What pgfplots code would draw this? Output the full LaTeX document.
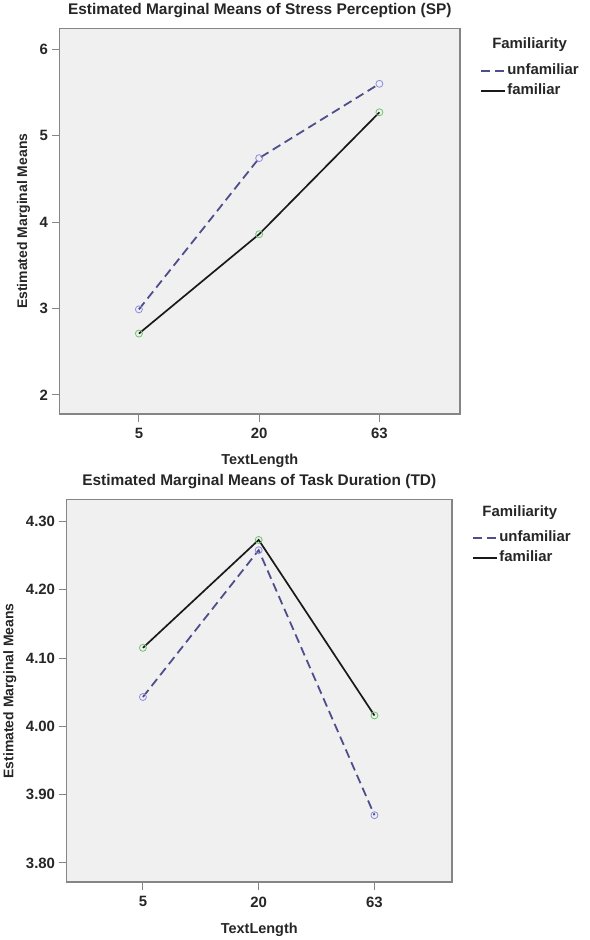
\documentclass[border=0pt]{standalone}
\usepackage{fontspec}
\setmainfont{Liberation Sans}
\usepackage{pgfplots}
\pgfplotsset{compat=1.18}
\definecolor{bg}{HTML}{F0F0F0}
\definecolor{frame}{HTML}{858585}
\definecolor{unfam}{HTML}{4E4E8C}
\definecolor{unfammark}{HTML}{8C8CE0}
\definecolor{fammark}{HTML}{6CC46C}

\pgfplotsset{
  spss/.style={
    scale only axis,
    anchor=north west,
    clip=false,
    axis background/.style={fill=bg},
    axis line style={frame,line width=1.3pt},
    xtick pos=left, ytick pos=left,
    tick style={frame,line width=1pt},
    major tick length=8pt,
    tick align=outside,
    xtick={0,1,2},
    xticklabels={5,20,63},
    xmin=-0.66, xmax=2.67,
    /pgf/number format/assume math mode=true,
    ticklabel style={font=\bfseries\fontsize{15}{15}\selectfont, text=black!85},
    xticklabel style={yshift=-3pt},
    xlabel={TextLength},
    ylabel={Estimated Marginal Means},
    xlabel style={font=\bfseries\fontsize{14.5}{14.5}\selectfont, text=black!85, anchor=center},
    ylabel style={font=\bfseries\fontsize{14}{14}\selectfont, text=black!85, anchor=center},
    title style={font=\bfseries\fontsize{15.5}{15.5}\selectfont, text=black!85, anchor=center},
    legend cell align=left,
    legend style={draw=none, fill=none, inner sep=0pt, anchor=west,
      font=\bfseries\fontsize{15}{15}\selectfont, text=black!85,
      nodes={inner sep=1.5pt, text height=11pt, text depth=3pt},
      row sep=3pt},
    legend image code/.code={\draw[#1] (0pt,0pt) -- (24pt,0pt);},
  },
  unf/.style={unfam, line width=1.8pt, dash pattern=on 9pt off 5pt,
    mark=o, mark size=3.5pt, mark options={solid, unfammark, line width=0.8pt}},
  fam/.style={black!90, line width=1.7pt,
    mark=o, mark size=3.5pt, mark options={solid, fammark, line width=0.8pt}},
}

\begin{document}
\begin{tikzpicture}
\path (-58pt,27pt) rectangle (532pt,-913pt);

% Stress perception
\begin{axis}[spss,
  at={(0pt,0pt)},
  width=402pt, height=387pt,
  ymin=1.78, ymax=6.24,
  ytick={2,3,4,5,6},
  title={Estimated Marginal Means of Stress Perception (SP)},
  title style={at={(0.5,1.031)}},
  xlabel style={at={(axis description cs:0.5,-0.1214)}},
  ylabel style={at={(axis description cs:-0.0896,0.5)}},
  legend style={at={(1.0498,0.864)}},
]
\addplot[unf] coordinates {(0,2.99) (1,4.74) (2,5.60)};
\addplot[fam] coordinates {(0,2.71) (1,3.86) (2,5.27)};
\legend{unfamiliar,familiar}
\node[font=\bfseries\fontsize{15}{15}\selectfont, text=black!85]
  at (axis description cs:1.174,0.959) {Familiarity};
\end{axis}

% Task duration
\begin{axis}[spss,
  at={(7pt,-473pt)},
  width=387pt, height=384pt,
  ymin=3.772, ymax=4.332,
  ytick={3.8,3.9,4.0,4.1,4.2,4.3},
  yticklabel style={/pgf/number format/.cd, fixed, fixed zerofill, precision=2},
  title={Estimated Marginal Means of Task Duration (TD)},
  title style={at={(0.5,1.031)}},
  xlabel style={at={(axis description cs:0.5,-0.125)}},
  ylabel style={at={(axis description cs:-0.147,0.5)}},
  legend style={at={(1.0517,0.874)}},
]
\addplot[unf] coordinates {(0,4.043) (1,4.258) (2,3.870)};
\addplot[fam] coordinates {(0,4.115) (1,4.273) (2,4.016)};
\legend{unfamiliar,familiar}
\node[font=\bfseries\fontsize{15}{15}\selectfont, text=black!85]
  at (axis description cs:1.176,0.966) {Familiarity};
\end{axis}
\end{tikzpicture}
\end{document}
